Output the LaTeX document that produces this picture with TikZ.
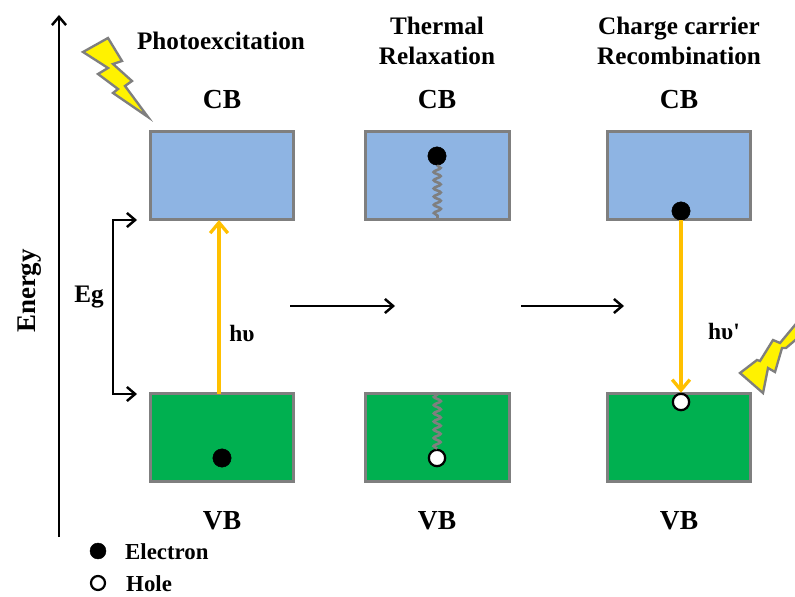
\documentclass[tikz,border=0pt]{standalone}
\usepackage{fontspec}
\setmainfont{Liberation Serif}
\usetikzlibrary{arrows.meta,decorations.pathmorphing}
\definecolor{cbblue}{HTML}{8EB4E3}
\definecolor{vbgreen}{HTML}{00B050}
\definecolor{boxgray}{HTML}{7F7F7F}
\definecolor{photon}{HTML}{FFC000}
\tikzset{
  band/.style={draw=boxgray,line width=2.3pt,minimum width=4.3cm,minimum height=2.64cm,outer sep=0pt},
  cb/.style={band,fill=cbblue},
  vb/.style={band,fill=vbgreen},
  lab/.style={font=\bfseries\fontsize{23.5}{28}\selectfont,inner sep=0pt},
  small/.style={font=\bfseries\fontsize{21.5}{25.6}\selectfont,align=center,inner sep=0pt},
  legend/.style={font=\bfseries\fontsize{19.5}{22}\selectfont,anchor=west,inner sep=0pt},
  electron/.style={circle,fill=black,draw=black,minimum size=0.55cm,inner sep=0pt},
  hole/.style={circle,fill=white,draw=black,line width=1.9pt,minimum size=0.49cm,inner sep=0pt},
  blackarrow/.style={line width=2.1pt,-{Straight Barb[length=7pt,width=12pt,line width=2.1pt]}},
  yellowarrow/.style={draw=photon,line width=2.8pt,-{Straight Barb[length=9pt,width=15pt,line width=2.8pt]}},
  spring/.style={draw=boxgray,line width=2.2pt,decorate,decoration={snake,segment length=7pt,amplitude=3pt}},
  bolt/.style={draw=boxgray,fill=yellow,line width=2pt,line join=miter}
}
\begin{document}
\begin{tikzpicture}[x=0.03cm,y=-0.03cm]
\useasboundingbox (0,0) rectangle (795,596);

% the bands
\node[cb] (cb1) at (222,175.5) {};
\node[cb] (cb2) at (437.5,175.5) {};
\node[cb] (cb3) at (679,175.5) {};
\node[vb] (vb1) at (222,437.5) {};
\node[vb] (vb2) at (437.5,437.5) {};
\node[vb] (vb3) at (679,437.5) {};

% labels of the bands
\node[lab] (cbl1) at (222,100) {CB};
\node[lab] (cbl2) at (437,100) {CB};
\node[lab] (cbl3) at (679,100) {CB};
\node[lab] (vbl1) at (222,521) {VB};
\node[lab] (vbl2) at (437,521) {VB};
\node[lab] (vbl3) at (679,521) {VB};

% titles
\node[small] (title1) at (221,41) {Photoexcitation};
\node[small] (title2) at (437,41) {Thermal\\Relaxation};
\node[small] (title3) at (679,41) {Charge carrier\\Recombination};

% energy axis
\coordinate (axis0) at (59,537);
\coordinate (axis1) at (59,15);
\draw[blackarrow] (axis0) -- (axis1);
\node[small,rotate=90,font=\bfseries\fontsize{23}{28}\selectfont] (energy) at (30,291) {Energy};

% band gap
\coordinate (eg0) at (113,306);
\coordinate (egt) at (137,220);
\coordinate (egb) at (137,394);
\draw[blackarrow] (eg0) |- (egt);
\draw[blackarrow] (eg0) |- (egb);
\node[small] (eg) at (89,297) {Eg};

% steps between the stages
\coordinate (stepa0) at (290,306);
\coordinate (stepa1) at (395,306);
\coordinate (stepb0) at (521,306);
\coordinate (stepb1) at (624,306);
\draw[blackarrow] (stepa0) -- (stepa1);
\draw[blackarrow] (stepb0) -- (stepb1);

% carriers
\node[electron] (e1) at (222,458) {};
\node[electron] (e2) at (437,156) {};
\node[electron] (e3) at (681,211) {};
\node[hole] (h2) at (437,458) {};
\node[hole] (h3) at (681,402) {};

% relaxation
\draw[spring] (e2) -- (cb2.south);
\draw[spring] (h2) -- (vb2.north);

% absorbed and emitted light
\coordinate (up0) at (219,394);
\coordinate (up1) at (219,220);
\draw[yellowarrow] (up0) -- (up1);
\draw[yellowarrow] (e3) -- (h3);
\node[small,font=\bfseries\fontsize{20}{24}\selectfont] (hv1) at (242,333) {hυ};
\node[small,font=\bfseries\fontsize{20}{24}\selectfont] (hv2) at (724,331) {hυ\textquotesingle};

% lightning
\draw[bolt] (83,52) -- (108,38) -- (122,61) -- (113,64) -- (132,81) -- (125,86) -- (148,117)
  -- (113,93) -- (118,89) -- (98,74) -- (108,68) -- cycle;
\begin{scope}
\clip (0,0) rectangle (795,596);
\draw[bolt] (740,373) -- (757,360) -- (760,361) -- (773,340) -- (780,343) -- (800,319)
  -- (800,336) -- (786,348) -- (782,348) -- (775,372) -- (768,368) -- (763,393) -- cycle;
\end{scope}

% legend
\node[electron,minimum size=0.48cm] (lege) at (98,551) {};
\node[hole,minimum size=0.42cm] (legh) at (98,583) {};
\node[legend] (legetxt) at (125,552) {Electron};
\node[legend] (leghtxt) at (126,584) {Hole};
\end{tikzpicture}
\end{document}
